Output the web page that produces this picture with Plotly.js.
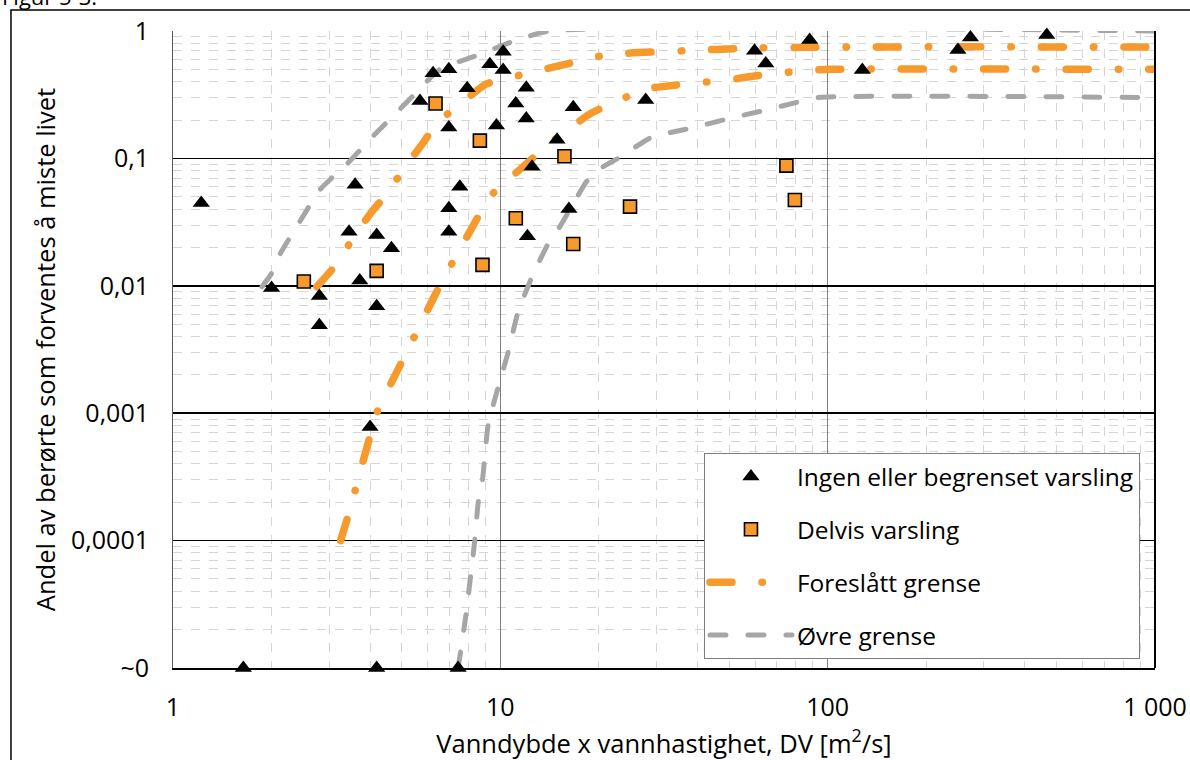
<!DOCTYPE html>
<html>
<head>
<meta charset="utf-8">
<script src="https://cdn.plot.ly/plotly-3.0.1.min.js"></script>
<style>
html,body{margin:0;padding:0;background:#fff;}
#chart{width:1190px;height:760px;}
</style>
</head>
<body>
<div id="chart"></div>
<script>
// "~0" is plotted at the bottom of the log axis
const ZERO = 1e-5;

// Ingen eller begrenset varsling (triangles)
const ingenX = [1.22, 1.64, 2.0, 2.8, 2.8, 3.45, 3.6, 3.72, 4.0, 4.19, 4.19, 4.19, 4.65,
  5.68, 6.23, 6.96, 6.96, 6.96, 6.96, 7.43, 7.52, 7.92, 9.29, 9.73, 10.2, 10.2, 11.15,
  12.0, 12.0, 12.1, 12.5, 14.9, 16.2, 16.7, 27.8, 59.8, 64.7, 88.1, 127.6, 250, 273, 467];
const ingenY = [0.0447, ZERO, 0.0096, 0.0083, 0.0049, 0.0266, 0.062, 0.011, 0.00078, 0.025, 0.0069, ZERO, 0.0197,
  0.282, 0.466, 0.50, 0.175, 0.0406, 0.0266, ZERO, 0.060, 0.355, 0.548, 0.181, 0.688, 0.494, 0.27,
  0.359, 0.206, 0.0245, 0.086, 0.14, 0.040, 0.252, 0.287, 0.70, 0.557, 0.85, 0.494, 0.71, 0.89, 0.93];

// Delvis varsling (squares)
const delvisX = [2.51, 4.19, 6.34, 8.66, 8.82, 11.15, 15.7, 16.7, 24.9, 74.8, 79.4];
const delvisY = [0.0108, 0.0131, 0.27, 0.138, 0.0146, 0.0339, 0.104, 0.0213, 0.0418, 0.0877, 0.0472];

// Foreslått grense - upper branch
const foreslattAX = [2.75, 3.11, 3.51, 4.01, 4.47, 5.07, 5.78, 6.41, 7.59, 9.07, 10.8, 13.3, 16.3, 19.8, 24.3, 36.6, 55.8, 83.2, 127, 1000];
const foreslattAY = [0.00984, 0.0141, 0.0226, 0.037, 0.0516, 0.0826, 0.13, 0.189, 0.271, 0.384, 0.433, 0.494, 0.558, 0.629, 0.668, 0.70, 0.732, 0.745, 0.75, 0.75];

// Foreslått grense - lower branch
const foreslattBX = [3.25, 3.41, 3.60, 3.97, 4.19, 4.93, 5.40, 6.35, 6.98, 8.36, 9.25, 10.7, 12.2, 14.1, 16.5, 19.1, 22.9, 27.3, 32.5, 39.7, 47.9, 57.5, 69.7, 85.1, 101, 1000];
const foreslattBY = [1.0e-4, 1.5e-4, 2.47e-4, 6.2e-4, 1.0e-3, 2.35e-3, 3.76e-3, 8.7e-3, 0.0137, 0.0313, 0.0495, 0.07, 0.094, 0.13, 0.177, 0.229, 0.282, 0.349, 0.37, 0.393, 0.407, 0.438, 0.465, 0.488, 0.50, 0.50];

// Øvre grense - upper branch
const ovreAX = [1.87, 2.0, 2.13, 2.44, 2.82, 3.43, 4.12, 4.96, 5.48, 6.54, 8.55, 11.1, 14.2, 1000];
const ovreAY = [0.00984, 0.0125, 0.018, 0.0319, 0.0572, 0.0925, 0.153, 0.247, 0.32, 0.50, 0.648, 0.84, 1.0, 1.0];

// Øvre grense - lower branch
const ovreBX = [7.43, 7.56, 7.85, 8.11, 8.36, 8.56, 8.82, 9.18, 9.85, 10.6, 11.3, 12.5, 14.2, 15.2, 18.5, 20.6, 23.2, 28.9, 37.9, 49.0, 63.5, 82.1, 93.4, 1000];
const ovreBY = [ZERO, 1.34e-5, 2.6e-5, 5.2e-5, 1.02e-4, 2.0e-4, 3.0e-4, 8.1e-4, 1.6e-3, 3.1e-3, 6.1e-3, 0.0118, 0.0229, 0.0291, 0.0677, 0.086, 0.102, 0.146, 0.172, 0.203, 0.237, 0.279, 0.30, 0.30];

// Tick labels
const xTickVals = [1, 10, 100, 1000];
const xTickText = ['1', '10', '100', '1 000'];
const yTickVals = [ZERO, 1e-4, 1e-3, 1e-2, 1e-1, 1];
const yTickText = ['~0', '0,0001', '0,001', '0,01', '0,1', '1'];

const ORANGE = '#F79A2E';
const GRAY = '#A6A6A6';
const FONT = 'Open Sans, sans-serif';
const orangeDash = '22px,30px,0.5px,30px';
const grayDash = '16px,22px';

const data = [
  {x: ovreBX, y: ovreBY, mode: 'lines', name: 'Øvre grense', legendgroup: 'd', showlegend: false,
   line: {color: GRAY, width: 5, dash: grayDash, shape: 'spline', smoothing: 0.6}},
  {x: ovreAX, y: ovreAY, mode: 'lines', name: 'Øvre grense', legendgroup: 'd', legendrank: 4,
   line: {color: GRAY, width: 5, dash: grayDash, shape: 'spline', smoothing: 0.6}},
  {x: foreslattBX, y: foreslattBY, mode: 'lines', name: 'Foreslått grense', legendgroup: 'c', showlegend: false,
   line: {color: ORANGE, width: 7.5, dash: orangeDash, shape: 'spline', smoothing: 0.6}},
  {x: foreslattAX, y: foreslattAY, mode: 'lines', name: 'Foreslått grense', legendgroup: 'c', legendrank: 3,
   line: {color: ORANGE, width: 7.5, dash: orangeDash, shape: 'spline', smoothing: 0.6}},
  {x: delvisX, y: delvisY, mode: 'markers', name: 'Delvis varsling', legendgroup: 'b', legendrank: 2,
   cliponaxis: false,
   marker: {symbol: 'square', size: 13, color: ORANGE, line: {color: '#000', width: 1.6}}},
  {x: ingenX, y: ingenY, mode: 'markers', name: 'Ingen eller begrenset varsling', legendgroup: 'a', legendrank: 1,
   cliponaxis: false,
   marker: {symbol: 'triangle-up', size: 15, color: '#000'}}
];

const minorGrid = {dtick: 'D1', showgrid: true, gridcolor: '#D6D6D6', griddash: 'dash', gridwidth: 1};

const layout = {
  width: 1190, height: 760,
  margin: {l: 173, r: 35, t: 31, b: 92},
  paper_bgcolor: '#fff', plot_bgcolor: '#fff',
  font: {family: FONT, color: '#000'},
  separators: ', ',
  showlegend: true,
  xaxis: {
    type: 'log', range: [0, 3],
    tickvals: xTickVals, ticktext: xTickText,
    tickfont: {size: 25, family: FONT},
    ticks: '', ticklabelstandoff: 16,
    showgrid: true, gridcolor: '#7F7F7F', gridwidth: 1,
    minor: minorGrid,
    showline: true, linecolor: '#000', linewidth: 2,
    zeroline: false,
    title: {text: 'Vanndybde x vannhastighet, DV [m<sup>2</sup>/s]', font: {size: 25.5, family: FONT}, standoff: 4}
  },
  xaxis2: {
    type: 'log', range: [0, 3], overlaying: 'x', side: 'top', anchor: 'y',
    showticklabels: false, showgrid: false,
    ticks: 'inside', ticklen: 5, tickwidth: 1.5, tickcolor: '#000', tickvals: xTickVals,
    minor: {dtick: 'D1', ticks: 'inside', ticklen: 5, tickwidth: 1.5, tickcolor: '#000', showgrid: false},
    showline: true, linecolor: '#000', linewidth: 2
  },
  yaxis: {
    type: 'log', range: [-5, 0],
    tickvals: yTickVals, ticktext: yTickText,
    tickfont: {size: 25, family: FONT},
    ticks: '', ticklabelstandoff: 18,
    showgrid: true, gridcolor: '#000', gridwidth: 1.5,
    minor: minorGrid,
    showline: true, linecolor: '#595959', linewidth: 1,
    zeroline: false,
    title: {text: 'Andel av berørte som forventes å miste livet', font: {size: 25.5, family: FONT}, standoff: 8}
  },
  legend: {
    x: 0.5407, y: 0.3375, xanchor: 'left', yanchor: 'top',
    bgcolor: '#fff', bordercolor: '#7F7F7F', borderwidth: 1,
    font: {size: 24.5, family: FONT, color: '#000'},
    traceorder: 'grouped', tracegroupgap: 18, itemwidth: 82
  },
  shapes: [
    {type: 'line', xref: 'paper', yref: 'paper', x0: 1, x1: 1, y0: 0, y1: 1,
     line: {color: '#000', width: 2}},
    {type: 'rect', xref: 'paper', yref: 'paper', x0: -0.165, x1: 1.1, y0: -0.2, y1: 1.033,
     line: {color: '#000', width: 1.5}, fillcolor: 'rgba(0,0,0,0)'}
  ],
  annotations: [
    {text: 'Figur 5-3:', xref: 'paper', yref: 'paper', x: -0.176, y: 1.055, xanchor: 'left', yanchor: 'middle',
     showarrow: false, font: {size: 22, family: FONT}}
  ]
};

Plotly.newPlot('chart', data, layout, {staticPlot: true}).then(function () {
  document.querySelectorAll('.scatterlayer .js-line, .legendlines path').forEach(function (p) {
    p.style.strokeLinecap = 'round';
  });
});
</script>
</body>
</html>
